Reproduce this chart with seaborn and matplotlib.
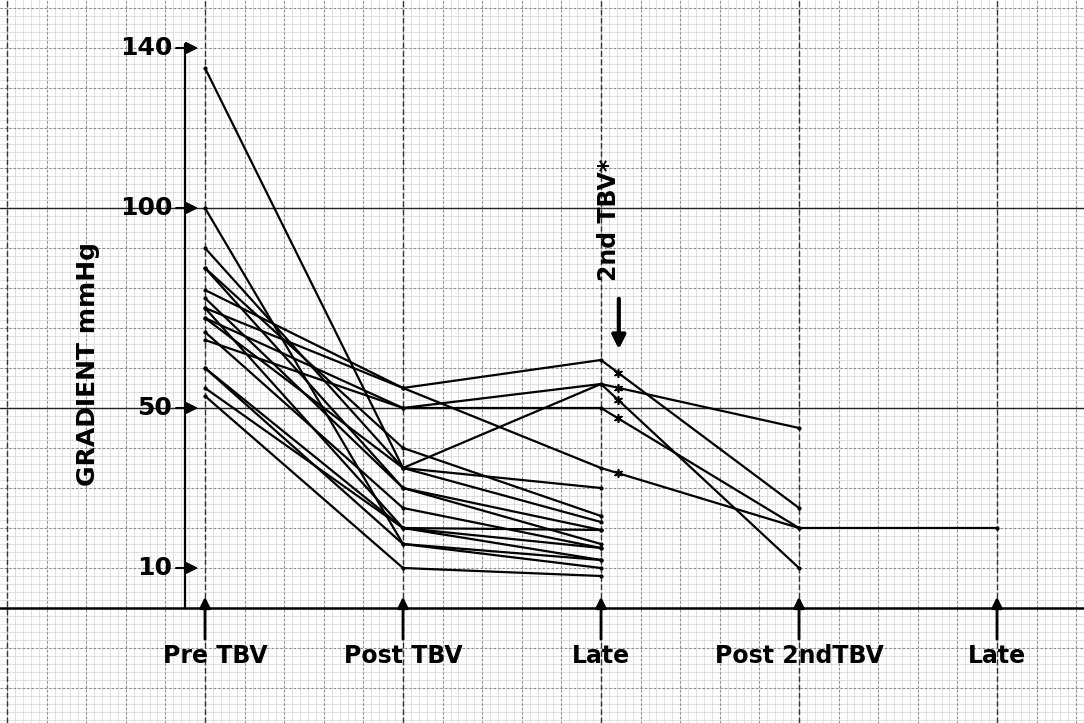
import numpy as np
import pandas as pd
import seaborn as sns
import matplotlib.pyplot as plt

# stages along the bottom
stages = ["Pre TBV", "Post TBV", "Late", "Post 2ndTBV", "Late"]

# gradient (mmHg) per patient at each stage, nan = not measured
pre = [75, 79.5, 72.5, 67, 85, 135, 90, 72.5, 85, 77.5, 69, 75, 60, 55, 100, 60, 53]
post = [55, 55, 50, 50, 40, 35, 35, 35, 30, 30, 25, 20, 20, 20, 16, 16, 10]
late = [62, 35, 56, 50, 23, 56, 30, 21.5, 19.5, 16, 15, 19.5, 12, 15, 12, 10, 8]
post2 = [25, 20, 45, 20, np.nan, 10] + [np.nan] * 11
late2 = [np.nan, np.nan, np.nan, 20] + [np.nan] * 13

y_ticks = [140, 100, 50, 10]

rows = []
for i in range(len(pre)):
    for j, arr in enumerate([pre, post, late, post2, late2]):
        if not np.isnan(arr[i]):
            rows.append({"patient": i, "stage": j, "gradient": arr[i]})
df = pd.DataFrame(rows)

sns.set_style("white")
plt.rcParams["font.family"] = ["DejaVu Sans"]
plt.rcParams["text.color"] = "black"

fig = plt.figure(figsize=(10.84, 7.23), dpi=100)
ax = fig.add_axes([0, 0, 1, 1])
ax.set_xlim(-205 / 198, 879 / 198)
ax.set_ylim(-28.75, 152)
ax.axis("off")

# graph paper
for x in np.arange(-1.04, 4.45, 0.04):
    ax.axvline(x, color="#dadada", lw=0.6, zorder=0)
for y in np.arange(-28, 152, 2):
    ax.axhline(y, color="#dadada", lw=0.6, zorder=0)
for x in np.arange(-1.0, 4.41, 0.2):
    ax.axvline(x, color="#8a8a8a", lw=0.8, ls=(0, (2, 2)), zorder=0)
for y in np.arange(-20, 151, 10):
    ax.axhline(y, color="#8a8a8a", lw=0.8, ls=(0, (2, 2)), zorder=0)
for x in range(-1, 5):
    ax.axvline(x, color="#333333", lw=1.0, ls=(0, (4, 2)), zorder=0)
for y in [50, 100]:
    ax.axhline(y, color="#222222", lw=1.0, zorder=0)

# axis frame
ax_x = -20 / 198
ax.plot([ax_x, ax_x], [0, 141], color="black", lw=1.6, zorder=2)
ax.axhline(0, color="black", lw=1.8, zorder=2)

sns.lineplot(data=df, x="stage", y="gradient", units="patient", estimator=None,
             color="black", lw=1.6, marker="o", markersize=3, markeredgewidth=0,
             sort=False, legend=False, ax=ax, zorder=3)

# asterisks just after the second TBV
xs = 2.086
frac = xs - 2
for a, b in zip(late, post2):
    if not np.isnan(b):
        ax.scatter(xs, a + (b - a) * frac, marker=(6, 2, 0), s=30, color="black",
                   lw=1.2, zorder=4)

# y tick labels with arrows
for v in y_ticks:
    ax.text(-0.165, v, str(v), ha="right", va="center", fontsize=18,
            fontweight="bold", color="black")
    ax.annotate("", xy=(-0.02, v), xytext=(-0.16, v),
                arrowprops=dict(arrowstyle="-|>", color="black", lw=1.5,
                                mutation_scale=18))

# stage labels with up arrows
offsets = [0.05, 0.0, 0.0, 0.0, 0.0]
for j, s in enumerate(stages):
    ax.annotate("", xy=(j, 3.5), xytext=(j, -8.5),
                arrowprops=dict(arrowstyle="-|>", color="black", lw=2,
                                mutation_scale=16))
    ax.text(j + offsets[j], -12, s, ha="center", va="center", fontsize=17,
            fontweight="bold", color="black")

ax.text(-0.59, 61, "GRADIENT mmHg", rotation=90, ha="center", va="center",
        fontsize=18, fontweight="bold", color="black")

ax.text(2.04, 97, "2nd TBV*", rotation=90, ha="center", va="center",
        fontsize=17, fontweight="bold", color="black")
ax.annotate("", xy=(2.09, 64), xytext=(2.09, 78),
            arrowprops=dict(arrowstyle="-|>", color="black", lw=3,
                            mutation_scale=20))

fig.savefig("out.png", dpi=100)
